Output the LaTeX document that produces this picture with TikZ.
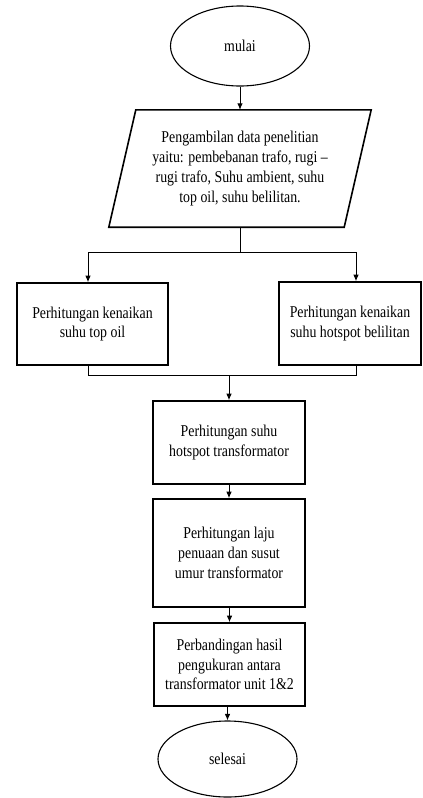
\documentclass[tikz,border=0pt]{standalone}
\usepackage{fontspec}
\setmainfont{Liberation Serif}[FakeStretch=0.84]
\usetikzlibrary{arrows.meta,calc,positioning,shapes.geometric}

\begin{document}
\begin{tikzpicture}[
    x=1pt, y=-1pt,
    font=\fontsize{16.5}{19.8}\selectfont,
    terminal/.style={ellipse, draw, line width=1.1pt, minimum width=139pt, inner sep=0},
    procbox/.style={rectangle, draw, line width=1.6pt, align=center, inner sep=0},
    databox/.style={rectangle, align=center, inner sep=0, minimum width=235pt, minimum height=117pt},
    flow/.style={line width=0.9pt},
    arr/.style={flow, -{Latex[length=6.5pt, width=5.5pt]}}]
\useasboundingbox (0,0) rectangle (423,798);

\node (mulai) [terminal, minimum height=80pt] at (240,46) {mulai};
\node (ambil) [databox] at (240,168.5) {Pengambilan data penelitian\\ yaitu: pembebanan trafo, rugi –\\ rugi trafo, Suhu ambient, suhu\\ top oil, suhu belilitan.};
\path[draw, line width=1.6pt] ([xshift=-13.5pt]ambil.south west) -- ([xshift=13.5pt]ambil.north west) -- ([xshift=13.5pt]ambil.north east) -- ([xshift=-13.5pt]ambil.south east) -- cycle;
\node (topoil) [procbox, minimum width=151pt, minimum height=82pt] at (92.5,324) {Perhitungan kenaikan\\ suhu top oil};
\node (belit) [procbox, minimum width=142pt, minimum height=83pt] at (350,323.5) {Perhitungan kenaikan\\ suhu hotspot belilitan};
\node (hotspot) [procbox, minimum width=152pt, minimum height=83pt] at (229,442.5) {Perhitungan suhu\\ hotspot transformator};
\node (laju) [procbox, minimum width=152pt, minimum height=108pt] at (229,553) {Perhitungan laju\\ penuaan dan susut\\ umur transformator};
\node (banding) [procbox, minimum width=151pt, minimum height=83pt] at (229.5,664.5) {Perbandingan hasil\\ pengukuran antara\\ transformator unit 1\&2};
\node (selesai) [terminal, minimum height=76pt] at (227.5,759) {selesai};

\coordinate (kiri) at (88,252);
\coordinate (kanan) at (356,252);
\coordinate (gabung) at (229,375);

\path[draw, arr] (mulai) -- (ambil.north);
\path[draw, flow] (ambil.south) -- (ambil.south |- kiri);
\path[draw, flow] (kiri) -- (kanan);
\path[draw, arr] (kiri) -- (kiri |- topoil.north);
\path[draw, arr] (kanan) -- (kanan |- belit.north);
\path[draw, flow] (kiri |- topoil.south) -- (kiri |- gabung) -- (gabung -| kanan) -- (kanan |- belit.south);
\path[draw, arr] (gabung) -- (hotspot.north);
\path[draw, arr] (hotspot) -- (laju);
\path[draw, arr] (laju.south -| banding.north) -- (banding.north);
\path[draw, arr] (banding.south -| selesai.north) -- (selesai);

\end{tikzpicture}
\end{document}
